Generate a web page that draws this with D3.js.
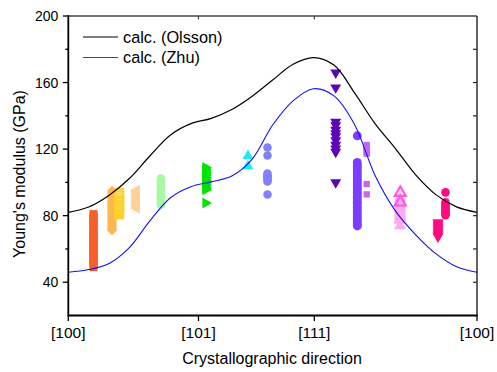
<!DOCTYPE html>
<html><head><meta charset="utf-8">
<script src="https://cdn.jsdelivr.net/npm/d3@7"></script>
<style>body{margin:0;background:#fff} svg{display:block} text{font-family:Arial,"Liberation Sans",sans-serif;fill:#000}</style>
</head><body><svg id="c" width="497" height="372"></svg>
<script>
// ---------- data ----------
const directionLabels = ["[100]", "[101]", "[111]", "[100]"];
const directionPositions = [0, 31.85, 60.2, 100];
const yLabelTicks = [40, 80, 120, 160, 200];
const yMinorTicks = [60, 100, 140, 180];
const yRightTicks = [40, 60, 80, 100, 120, 140, 160, 180];

const curvePositions = [0, 5, 10, 15, 20, 25, 30, 35, 40, 45, 50, 55, 60, 65, 70, 75, 80, 85, 90, 95, 100];
const olssonValues   = [82, 85.2, 92.3, 102.5, 116, 128.5, 135.3, 138.5, 143.8, 151.8, 161.5, 171, 175, 170.5, 154, 135.5, 120.5, 104.5, 92.5, 85.3, 82];
const zhuValues      = [46, 47.6, 51.3, 61, 77, 90.8, 97.4, 100.3, 103.8, 114, 134.5, 149, 156.3, 152, 135, 104.5, 83, 68.5, 57, 49.3, 46];

// experimental data: position along the direction path, Young's modulus values
const redPos = 6.17,        redValues = [81, 80.2, 79, 78.3, 77.4, 76.5, 75.6, 74.4, 73.5, 72.2, 71, 70, 69, 68.2, 67.1, 66, 65.2, 64, 63.1, 62, 61, 60.2, 59, 58.1, 57, 56.2, 55, 54, 53.1, 52, 51, 50, 49];
const orangePos = 10.69,    orangeValues = [95, 94, 93, 92.2, 91, 90.1, 89, 88, 87.2, 86, 85, 84.1, 83, 82, 81.2, 80, 79, 78, 77.1, 76, 75, 74, 73, 72, 71.3];
const yellowPos = 12.5,     yellowValues = [93.8, 92.5, 91, 89.5, 88.2, 86.7, 85.5, 84, 82.7, 81.5, 80.6];
const peachPos = 16.7,      peachValues = [95.3, 94.3, 93.2, 92.2, 91.1, 90, 89, 88, 87, 86, 85, 84.5];
const lightGreenPos = 22.68, lightGreenValues = [102.3, 101.3, 100.2, 99.1, 98, 97, 96, 95, 94, 93, 92, 91, 90, 89, 88, 87.2, 86.6];
const greenPos = 33.6,      greenValues = [109, 108, 107, 106, 105, 104.1, 103, 102, 101, 100, 99, 98, 97, 96.2, 95.6, 87.6];
const cyanPos = 43.96,      cyanValues = [116, 109.8];
const periwinklePos = 48.74, periwinkleValues = [121, 116.2, 105.3, 104.3, 103.3, 102.4, 101.5, 100.6, 92.7];
const darkPurplePos = 65.43, darkPurpleValues = [166, 157, 136.3, 134.2, 131.5, 129.5, 127.7, 125.2, 122.5, 120.3, 118.3, 100];
const violetPos = 70.71,    violetValues = [128, 112, 110.5, 109, 107.6, 106, 104.5, 103, 101.5, 100, 98.5, 97, 95.6, 94, 92.6, 91, 89.6, 88, 86.5, 85, 83.6, 82, 80.5, 79, 77.5, 76, 74.6, 73.8];
const lilacPos = 73.01,     lilacValues = [122.5, 121.5, 120.4, 119.3, 118.2, 117.2, 99, 92.8];
const lightPinkPos = 81.16, lightPinkValues = [90.5, 89.5, 88.4, 87.3, 86.2, 85.1, 84, 83, 82, 81, 80, 79, 78, 77.2, 74];
const pinkPos = 81.23,      pinkValues = [93.8, 88];
const hotPinkTriPos = 90.46, hotPinkTriValues = [76, 75, 74, 73, 72, 71, 70, 69, 68, 67.4];
const hotPinkCircPos = 92.29, hotPinkCircValues = [94, 88, 87, 86, 85, 84, 83, 82, 81, 80.3];

const legendLabels = ["calc. (Olsson)", "calc. (Zhu)"];

// ---------- styling / table ----------
const scatter = [
  {pos: redPos, values: redValues, color: "#F65F2B", shape: "square", size: 62},
  {pos: orangePos, values: orangeValues, color: "#FEB84F", shape: "diamond", size: 50},
  {pos: yellowPos, values: yellowValues, color: "#FFD12E", shape: "square", size: 56, open: true, sw: 2},
  {pos: peachPos, values: peachValues, color: "#FED09A", shape: "triLeft", size: 52},
  {pos: lightGreenPos, values: lightGreenValues, color: "#A9F7A2", shape: "circle", size: 58},
  {pos: greenPos, values: greenValues, color: "#00E400", shape: "triRight", size: 52},
  {pos: cyanPos, values: cyanValues, color: "#18EDEF", shape: "triUp", size: 52},
  {pos: periwinklePos, values: periwinkleValues, color: "#8282FF", shape: "circle", size: 58},
  {pos: darkPurplePos, values: darkPurpleValues, color: "#5E03B5", shape: "triDown", size: 52},
  {pos: violetPos, values: violetValues, color: "#7C3DFF", shape: "circle", size: 62},
  {pos: lilacPos, values: lilacValues, color: "#C866EE", shape: "square", size: 40},
  {pos: lightPinkPos, values: lightPinkValues, color: "#FFA9F1", shape: "triUp", size: 64},
  {pos: pinkPos, values: pinkValues, color: "#FF5BDB", shape: "triUp", size: 52, open: true, sw: 2.2},
  {pos: hotPinkTriPos, values: hotPinkTriValues, color: "#FF0A80", shape: "triDown", size: 52},
  {pos: hotPinkCircPos, values: hotPinkCircValues, color: "#FF0A80", shape: "circle", size: 58}
];

const L = 68.3, R = 477, T = 16, B = 315.5;
const svg = d3.select("#c");
const x = d3.scaleLinear().domain([0, 100]).range([L, R]);
const y = d3.scaleLinear().domain([20, 200]).range([B, T]);

// markers
const symType = {square: d3.symbolSquare, diamond: d3.symbolSquare, circle: d3.symbolCircle,
  triUp: d3.symbolTriangle, triDown: d3.symbolTriangle, triLeft: d3.symbolTriangle, triRight: d3.symbolTriangle};
const rot = {square: 0, diamond: 45, circle: 0, triUp: 0, triDown: 180, triLeft: -90, triRight: 90};
const gm = svg.append("g");
scatter.forEach(s => {
  const path = d3.symbol().type(symType[s.shape]).size(s.size)();
  gm.selectAll(null).data(s.values).enter().append("path")
    .attr("d", path)
    .attr("transform", v => `translate(${x(s.pos)},${y(v)}) rotate(${rot[s.shape]})`)
    .attr("fill", s.open ? "none" : s.color)
    .attr("stroke", s.open ? s.color : "none")
    .attr("stroke-width", s.sw || 0);
});

// curves
const line = d3.line().x(d => x(d[0])).y(d => y(d[1])).curve(d3.curveCatmullRom.alpha(0.5));
svg.append("path").datum(curvePositions.map((p, i) => [p, olssonValues[i]]))
  .attr("d", line).attr("fill", "none").attr("stroke", "#000").attr("stroke-width", 1.2);
svg.append("path").datum(curvePositions.map((p, i) => [p, zhuValues[i]]))
  .attr("d", line).attr("fill", "none").attr("stroke", "#1010FF").attr("stroke-width", 1.1);

// axes
const ga = svg.append("g");
ga.append("line").attr("x1", L).attr("x2", R).attr("y1", T).attr("y2", T).attr("stroke", "#444").attr("stroke-width", 1.4);
ga.append("line").attr("x1", R).attr("x2", R).attr("y1", T).attr("y2", B).attr("stroke", "#222").attr("stroke-width", 1.4);
ga.append("line").attr("x1", L).attr("x2", R + 0.7).attr("y1", B).attr("y2", B).attr("stroke", "#000").attr("stroke-width", 1.8);
ga.append("line").attr("x1", L).attr("x2", L).attr("y1", T - 0.7).attr("y2", B + 0.9).attr("stroke", "#000").attr("stroke-width", 1.8);

yLabelTicks.forEach(v => {
  ga.append("line").attr("x1", L - 5.5).attr("x2", L).attr("y1", y(v)).attr("y2", y(v)).attr("stroke", "#000").attr("stroke-width", 1.3);
  ga.append("text").attr("x", L - 10).attr("y", y(v) + 5).attr("text-anchor", "end").attr("font-size", 14).text(v);
});
yMinorTicks.forEach(v => {
  ga.append("line").attr("x1", L - 3).attr("x2", L).attr("y1", y(v)).attr("y2", y(v)).attr("stroke", "#000").attr("stroke-width", 1.3);
});
yRightTicks.forEach(v => {
  ga.append("line").attr("x1", R - 4).attr("x2", R).attr("y1", y(v)).attr("y2", y(v)).attr("stroke", "#222").attr("stroke-width", 1.2);
});
directionPositions.forEach((p, i) => {
  ga.append("line").attr("x1", x(p)).attr("x2", x(p)).attr("y1", B).attr("y2", B + 5.5).attr("stroke", "#000").attr("stroke-width", 1.3);
  if (i > 0 && i < directionPositions.length - 1)
    ga.append("line").attr("x1", x(p)).attr("x2", x(p)).attr("y1", T).attr("y2", T + 3.5).attr("stroke", "#444").attr("stroke-width", 1.2);
  ga.append("text").attr("x", x(p)).attr("y", B + 22.5).attr("text-anchor", "middle").attr("font-size", 15.5).text(directionLabels[i]);
});

svg.append("text").attr("x", 272).attr("y", 364).attr("text-anchor", "middle").attr("font-size", 16).text("Crystallographic direction");
svg.append("text").attr("transform", "translate(25,174) rotate(-90)").attr("text-anchor", "middle").attr("font-size", 16).text("Young's modulus (GPa)");

const legColors = ["#000", "#3030FF"];
legendLabels.forEach((lab, i) => {
  const ly = 37 + i * 20.5;
  svg.append("line").attr("x1", 83).attr("x2", 118).attr("y1", ly).attr("y2", ly).attr("stroke", legColors[i]).attr("stroke-width", 1.2);
  svg.append("text").attr("x", 123).attr("y", ly + 5.5).attr("font-size", 16.3).text(lab);
});
</script></body></html>
